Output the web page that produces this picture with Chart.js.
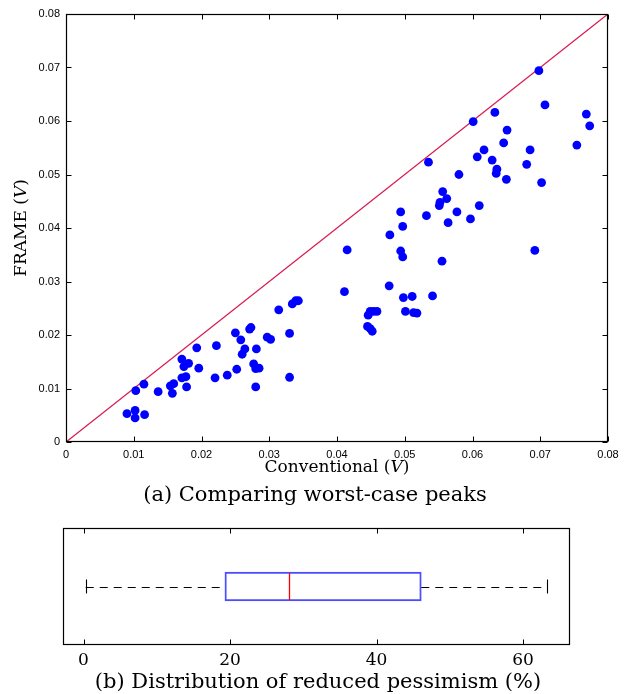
<!DOCTYPE html>
<html><head><meta charset="utf-8">
<script src="https://cdn.jsdelivr.net/npm/chart.js@4/dist/chart.umd.min.js"></script>
<style>
html,body{margin:0;padding:0;background:#fff;}
#wrap{position:relative;width:631px;height:694px;overflow:hidden;}
#c1{position:absolute;left:0;top:0;}
#c2{position:absolute;left:0;top:510px;}
</style></head><body>
<div id="wrap">
<canvas id="c1" width="631" height="510"></canvas>
<canvas id="c2" width="631" height="184"></canvas>
</div>
<script>
// ---- data ----
const conventional = [0.0090,0.0102,0.0102,0.0116,0.0103,0.0115,0.0136,0.0154,0.0159,0.0157,
 0.0171,0.0174,0.0181,0.0171,0.0177,0.0178,0.0193,0.0196,0.0222,0.0220,
 0.0238,0.0250,0.0252,0.0258,0.0271,0.0273,0.0264,0.0260,0.0281,0.0277,
 0.0280,0.0285,0.0280,0.0297,0.0302,0.0330,0.0314,0.0334,0.0339,0.0343,
 0.0330,0.0415,0.0411,0.0449,0.0454,0.0459,0.0446,0.0445,0.0449,0.0452,
 0.0477,0.0478,0.0494,0.0497,0.0494,0.0497,0.0498,0.0511,0.0501,0.0513,
 0.0518,0.0532,0.0541,0.0535,0.0633,0.0601,0.0651,0.0646,0.0617,0.0607,
 0.0629,0.0636,0.0635,0.0650,0.0685,0.0680,0.0580,0.0556,0.0562,0.0552,
 0.0551,0.0577,0.0610,0.0564,0.0597,0.0555,0.0692,0.0702,0.0698,0.0707,
 0.0768,0.0773,0.0754];
const frameV = [0.0053,0.0059,0.0045,0.0051,0.0096,0.0108,0.0094,0.0105,0.0109,0.0091,
 0.0155,0.0141,0.0147,0.0120,0.0122,0.0103,0.0176,0.0138,0.0180,0.0120,
 0.0125,0.0204,0.0136,0.0191,0.0211,0.0214,0.0174,0.0164,0.0174,0.0146,
 0.0137,0.0138,0.0103,0.0196,0.0192,0.0203,0.0247,0.0258,0.0264,0.0264,
 0.0121,0.0359,0.0281,0.0244,0.0244,0.0244,0.0237,0.0216,0.0212,0.0207,
 0.0292,0.0387,0.0430,0.0403,0.0357,0.0346,0.0270,0.0272,0.0244,0.0242,
 0.0241,0.0423,0.0273,0.0523,0.0616,0.0599,0.0583,0.0559,0.0546,0.0533,
 0.0527,0.0510,0.0502,0.0491,0.0546,0.0519,0.0500,0.0468,0.0455,0.0448,
 0.0442,0.0430,0.0442,0.0410,0.0417,0.0338,0.0358,0.0485,0.0694,0.0630,
 0.0613,0.0591,0.0555];
const diagonal = [0, 0.08];
const xTicks = [0,0.01,0.02,0.03,0.04,0.05,0.06,0.07,0.08];
const yTicks = [0,0.01,0.02,0.03,0.04,0.05,0.06,0.07,0.08];
const xTickLabels = ['0','0.01','0.02','0.03','0.04','0.05','0.06','0.07','0.08'];
const yTickLabels = ['0','0.01','0.02','0.03','0.04','0.05','0.06','0.07','0.08'];

const statNames = ['min','q1','median','q3','max'];
const pessimismStats = [0.3, 19.3, 28.0, 46.1, 63.3];
const boxTicks = [0,20,40,60];
const boxTickLabels = ['0','20','40','60'];

// ---- styles ----
const SERIF = '"DejaVu Serif", serif';
const SANS = '"Liberation Sans", Arial, sans-serif';

function drawParts(ctx, parts, cx, cy){
  let w = 0;
  parts.forEach(p=>{ctx.font=p.f; p.w=ctx.measureText(p.t).width; w+=p.w;});
  let x = cx - w/2;
  ctx.textBaseline='middle'; ctx.textAlign='left';
  parts.forEach(p=>{ctx.font=p.f; ctx.fillText(p.t, x, cy); x+=p.w;});
}

const framePlugin1 = {
  id:'frame1',
  afterDraw(chart){
    const {ctx, chartArea:a, scales:{x,y}} = chart;
    ctx.save();
    ctx.strokeStyle='#000'; ctx.lineWidth=1;
    const L=Math.round(a.left)+0.5, R=Math.round(a.right)-0.5, T=Math.round(a.top)+0.5, B=Math.round(a.bottom)-0.5;
    ctx.beginPath();
    x.ticks.forEach(t=>{const p=Math.round(x.getPixelForValue(t.value))+0.5;
      ctx.moveTo(p,B); ctx.lineTo(p,B-5); ctx.moveTo(p,T); ctx.lineTo(p,T+5);});
    y.ticks.forEach(t=>{const p=Math.round(y.getPixelForValue(t.value))+0.5;
      ctx.moveTo(L,p); ctx.lineTo(L+5,p); ctx.moveTo(R,p); ctx.lineTo(R-5,p);});
    ctx.stroke();
    ctx.lineWidth=1.2;
    ctx.strokeRect(L,T,R-L,B-T);
    ctx.fillStyle='#000';
    const fs = '17px '+SERIF, fi = 'italic 17px '+SERIF;
    drawParts(ctx,[{t:'Conventional (',f:fs},{t:'V',f:fi},{t:')',f:fs}], (a.left+a.right)/2, a.bottom+26);
    ctx.save();
    ctx.translate(22,(a.top+a.bottom)/2); ctx.rotate(-Math.PI/2);
    drawParts(ctx,[{t:'FRAME (',f:fs},{t:'V',f:fi},{t:')',f:fs}], 0, 0);
    ctx.restore();
    drawParts(ctx,[{t:'(a) Comparing worst-case peaks',f:'21px '+SERIF}], 315, a.bottom+54);
    ctx.restore();
  }
};

new Chart(document.getElementById('c1'), {
  type:'scatter',
  data:{datasets:[
    {type:'line', data:diagonal.map(v=>({x:v,y:v})), borderColor:'#d81a4f', borderWidth:1.3,
     pointRadius:0, fill:false, order:2},
    {data:conventional.map((c,i)=>({x:c,y:frameV[i]})), backgroundColor:'#0000ff',
     borderColor:'#0000ff', borderWidth:0, pointRadius:4.4, order:1}
  ]},
  options:{
    responsive:false, animation:false, devicePixelRatio:1,
    layout:{padding:{left:0,right:23,top:14,bottom:0}},
    plugins:{legend:{display:false},tooltip:{enabled:false}},
    scales:{
      x:{type:'linear',min:0,max:0.08,
        afterBuildTicks:s=>{s.ticks=xTicks.map(v=>({value:v}));},
        afterFit:s=>{s.height=68;},
        grid:{display:false,drawTicks:false}, border:{display:false},
        ticks:{autoSkip:false,maxRotation:0,padding:6,color:'#000',font:{family:SANS,size:11},
          callback:(v,i)=>xTickLabels[i]}},
      y:{type:'linear',min:0,max:0.08,
        afterBuildTicks:s=>{s.ticks=yTicks.map(v=>({value:v}));},
        afterFit:s=>{s.width=66;},
        grid:{display:false,drawTicks:false}, border:{display:false},
        ticks:{autoSkip:false,padding:6,color:'#000',font:{family:SANS,size:11},
          callback:(v,i)=>yTickLabels[i]}}
    }
  },
  plugins:[framePlugin1]
});

// ---- box plot ----
const boxPlugin = {
  id:'box2',
  afterDraw(chart){
    const {ctx, chartArea:a, scales:{x}} = chart;
    const meta = chart.getDatasetMeta(0).data[0];
    const cy = meta.y, half = meta.height/2;
    const v = Object.fromEntries(statNames.map((n,i)=>[n,pessimismStats[i]]));
    const px = k=>x.getPixelForValue(v[k]);
    ctx.save();
    // whiskers
    ctx.strokeStyle='#000'; ctx.lineWidth=1.1; ctx.setLineDash([8,6]);
    ctx.beginPath();
    ctx.moveTo(px('min'),Math.round(cy)+0.5); ctx.lineTo(px('q1'),Math.round(cy)+0.5);
    ctx.moveTo(px('q3'),Math.round(cy)+0.5); ctx.lineTo(px('max'),Math.round(cy)+0.5);
    ctx.stroke();
    ctx.setLineDash([]);
    ctx.beginPath();
    ['min','max'].forEach(k=>{const p=Math.round(px(k))+0.5; ctx.moveTo(p,cy-7); ctx.lineTo(p,cy+7);});
    ctx.stroke();
    // median
    ctx.strokeStyle='#ff0000'; ctx.lineWidth=1.3;
    ctx.beginPath();
    const m=Math.round(px('median'))+0.5; ctx.moveTo(m,cy-half+1); ctx.lineTo(m,cy+half-1);
    ctx.stroke();
    // frame and ticks
    ctx.strokeStyle='#000'; ctx.lineWidth=1;
    const L=Math.round(a.left)+0.5, R=Math.round(a.right)-0.5, T=Math.round(a.top)+0.5, B=Math.round(a.bottom)-0.5;
    ctx.beginPath();
    x.ticks.forEach(t=>{const p=Math.round(x.getPixelForValue(t.value))+0.5;
      ctx.moveTo(p,B); ctx.lineTo(p,B-5); ctx.moveTo(p,T); ctx.lineTo(p,T+5);});
    ctx.stroke();
    ctx.lineWidth=1.2;
    ctx.strokeRect(L,T,R-L,B-T);
    ctx.fillStyle='#000';
    drawParts(ctx,[{t:'(b) Distribution of reduced pessimism (%)',f:'21px '+SERIF}], 318, a.bottom+38);
    ctx.restore();
  }
};

new Chart(document.getElementById('c2'), {
  type:'bar',
  data:{labels:['pessimism'], datasets:[{
    data:[[pessimismStats[1], pessimismStats[3]]],
    backgroundColor:'rgba(0,0,0,0)', borderColor:'#4d4dff', borderWidth:1.3,
    borderSkipped:false, barThickness:29
  }]},
  options:{
    indexAxis:'y', responsive:false, animation:false, devicePixelRatio:1,
    layout:{padding:{left:63,right:61,top:18,bottom:0}},
    plugins:{legend:{display:false},tooltip:{enabled:false}},
    scales:{
      x:{type:'linear',min:-2.8,max:66.4,
        afterBuildTicks:s=>{s.ticks=boxTicks.map(v=>({value:v}));},
        afterFit:s=>{s.height=49;},
        grid:{display:false,drawTicks:false}, border:{display:false},
        ticks:{autoSkip:false,maxRotation:0,padding:5,color:'#000',font:{family:SERIF,size:17},
          callback:(v,i)=>boxTickLabels[i]}},
      y:{display:false}
    }
  },
  plugins:[boxPlugin]
});
</script>
</body></html>
